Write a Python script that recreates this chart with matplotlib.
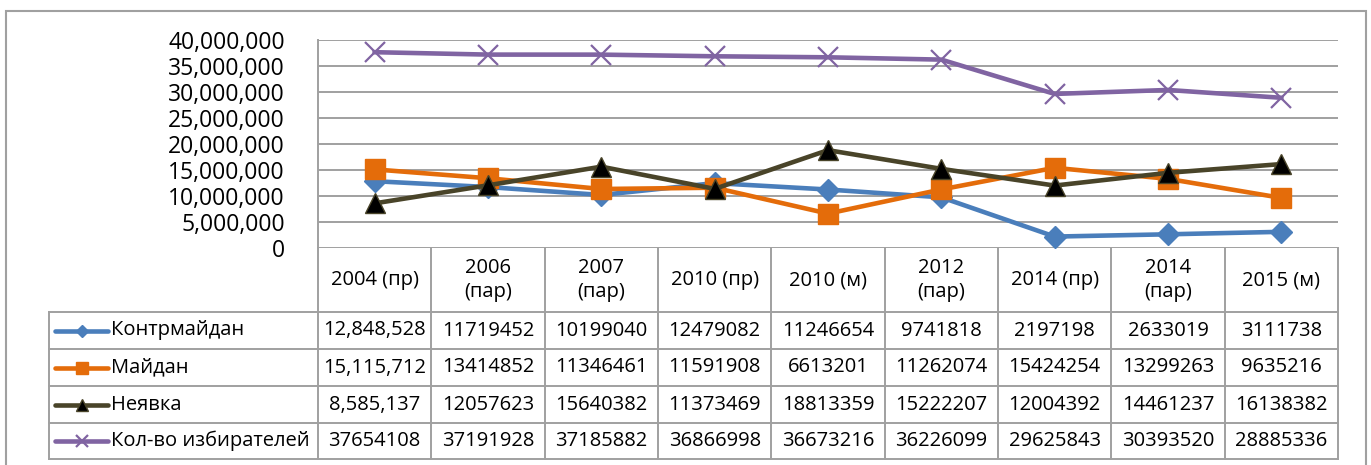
import matplotlib
matplotlib.use("Agg")
import matplotlib.pyplot as plt
import matplotlib.transforms as mtransforms
from matplotlib.lines import Line2D
from matplotlib.patches import Rectangle
from matplotlib.ticker import FuncFormatter

plt.rcParams['font.family'] = ['Open Sans', 'DejaVu Sans']

# categories (election rounds)
categories = ["2004 (пр)", "2006\n(пар)", "2007\n(пар)", "2010 (пр)", "2010 (м)",
              "2012\n(пар)", "2014 (пр)", "2014\n(пар)", "2015 (м)"]

kontrmaidan = [12848528, 11719452, 10199040, 12479082, 11246654, 9741818, 2197198, 2633019, 3111738]
maidan = [15115712, 13414852, 11346461, 11591908, 6613201, 11262074, 15424254, 13299263, 9635216]
neyavka = [8585137, 12057623, 15640382, 11373469, 18813359, 15222207, 12004392, 14461237, 16138382]
izbirateli = [37654108, 37191928, 37185882, 36866998, 36673216, 36226099, 29625843, 30393520, 28885336]

series_names = ["Контрмайдан", "Майдан", "Неявка", "Кол-во избирателей"]
series_values = [kontrmaidan, maidan, neyavka, izbirateli]

W, H = 1371, 465
GRID = "#a0a0a0"
styles = [
    dict(color="#4a7ebb", marker="D", markersize=11, mfc="#4a7ebb", mec="#4a7ebb"),
    dict(color="#e46c0a", marker="s", markersize=14, mfc="#e46c0a", mec="#e46c0a"),
    dict(color="#494429", marker="^", markersize=14, mfc="black", mec="#494429"),
    dict(color="#8064a2", marker="x", markersize=14, mfc="#8064a2", mec="#8064a2", mew=1.6),
]


def fx(x):
    return x / W


def fy(y):
    return 1 - y / H


fig = plt.figure(figsize=(W / 100, H / 100), dpi=100)

# outer chart frame
fig.add_artist(Rectangle((fx(6), fy(468)), fx(1366) - fx(6), fy(11) - fy(468),
                         transform=fig.transFigure, fill=False, ec=GRID, lw=1.5))

left, right, top, bottom = 318, 1338, 40, 248
ax = fig.add_axes([fx(left), fy(bottom), fx(right) - fx(left), fy(top) - fy(bottom)])

xs = list(range(len(categories)))
for vals, st in zip(series_values, styles):
    ax.plot(xs, vals, lw=3.3, clip_on=False, zorder=3, **st)

ax.set_xlim(-0.5, len(categories) - 0.5)
ax.set_ylim(0, 40000000)
ax.set_yticks(range(0, 40000001, 5000000))
ax.yaxis.set_major_formatter(FuncFormatter(lambda v, p: f"{int(v):,}"))
ax.tick_params(axis="y", length=0, pad=24, labelsize=16.5)
ax.set_xticks([])
ax.grid(axis="y", color=GRID, lw=1.4)
ax.set_axisbelow(True)
for s in ["top", "right", "bottom"]:
    ax.spines[s].set_visible(False)
ax.spines["left"].set_color(GRID)
ax.spines["left"].set_linewidth(1.4)

# data table below the plot
trans = mtransforms.blended_transform_factory(ax.transData, fig.transFigure)
row_lines = [312, 349, 386, 423, 459]
legend_left = 49
tsize = 14.5


def hline(x0, x1, y):
    fig.add_artist(Line2D([fx(x0), fx(x1)], [fy(y), fy(y)], transform=fig.transFigure,
                          color=GRID, lw=1.4))


def vline(x, y0, y1):
    fig.add_artist(Line2D([fx(x), fx(x)], [fy(y0), fy(y1)], transform=fig.transFigure,
                          color=GRID, lw=1.4))


for y in row_lines:
    hline(legend_left, right, y)
vline(legend_left, row_lines[0], row_lines[-1])
step = (right - left) / len(categories)
for k in range(len(categories) + 1):
    vline(left + k * step, bottom, row_lines[-1])

# header with category names
for i, cat in enumerate(categories):
    ax.text(i, fy(280), cat, transform=trans, ha="center", va="center",
            fontsize=tsize, linespacing=1.25)

# legend keys and values
for r, (name, vals, st) in enumerate(zip(series_names, series_values, styles)):
    yc = (row_lines[r] + row_lines[r + 1]) / 2
    key = dict(st)
    key["markersize"] = key["markersize"] * 0.6
    # key line, then the marker in its middle
    fig.add_artist(Line2D([fx(55), fx(108)], [fy(yc), fy(yc)], transform=fig.transFigure,
                          lw=3.3, solid_capstyle="round", color=st["color"]))
    fig.add_artist(Line2D([fx(81.5)], [fy(yc)], transform=fig.transFigure, linestyle="none",
                          **{k: v for k, v in key.items() if k != "color"}))
    fig.text(fx(111), fy(yc), name, ha="left", va="center", fontsize=tsize)
    for i, v in enumerate(vals):
        label = f"{v:,}" if (i == 0 and r < 3) else str(v)
        ax.text(i, fy(yc), label, transform=trans, ha="center", va="center", fontsize=tsize)

fig.savefig("out.png", dpi=100)
